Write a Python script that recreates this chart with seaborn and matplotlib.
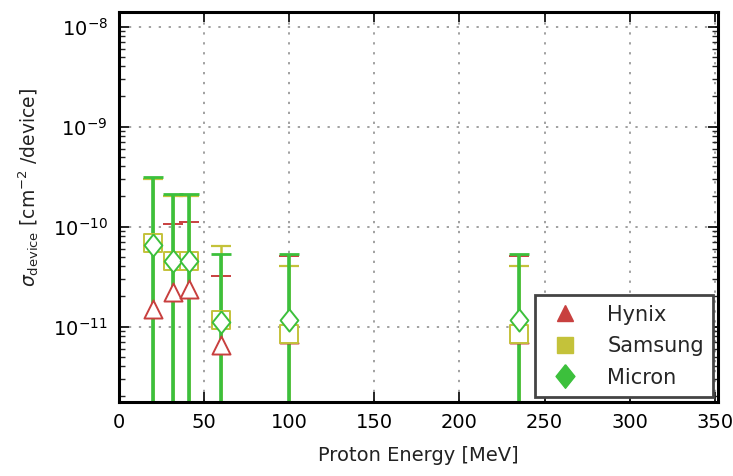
import numpy as np
import pandas as pd
import matplotlib
matplotlib.use("Agg")
import matplotlib.pyplot as plt
from matplotlib.lines import Line2D
import seaborn as sns

# Data
energy = [20, 32, 41, 60, 100, 235]
hynix = [1.5e-11, 2.2e-11, 2.35e-11, 6.6e-12, 8.5e-12, 8.5e-12]
hynix_up = [3.0e-10, 1.07e-10, 1.12e-10, 3.2e-11, 5.1e-11, 5.1e-11]
samsung = [6.8e-11, 4.5e-11, 4.5e-11, 1.15e-11, 8.5e-12, 8.5e-12]
samsung_up = [3.0e-10, 2.0e-10, 2.0e-10, 6.4e-11, 4.0e-11, 4.0e-11]
micron = [6.6e-11, 4.5e-11, 4.5e-11, 1.1e-11, 1.17e-11, 1.17e-11]
micron_up = [3.15e-10, 2.1e-10, 2.1e-10, 5.3e-11, 5.3e-11, 5.3e-11]
lower_floor = 1e-13

diamond = [(0, 1), (0.8, 0), (0, -1), (-0.8, 0), (0, 1)]

series = [
    ("Hynix", hynix, hynix_up, "#c8403f", "^", 13, 1.6, 1.4),
    ("Samsung", samsung, samsung_up, "#c4c23a", "s", 13, 1.8, 1.6),
    ("Micron", micron, micron_up, "#3cc03c", diamond, 16, 2.6, 2.0),
]

sns.set_style("ticks")
plt.rcParams["font.family"] = ["DejaVu Sans"]
plt.rcParams["mathtext.fontset"] = "dejavusans"

fig = plt.figure(figsize=(7.33, 4.76), dpi=100)
ax = fig.add_axes([0.162, 0.155, 0.818, 0.82])

rows = []
for name, vals, ups, color, marker, ms, lw, cw in series:
    vals = np.array(vals)
    ups = np.array(ups)
    yerr = np.vstack([vals - lower_floor, ups - vals])
    ax.errorbar(energy, vals, yerr=yerr, fmt="none", ecolor=color,
                elinewidth=lw, capsize=7, capthick=cw, zorder=2)
    for e, v in zip(energy, vals):
        rows.append({"energy": e, "value": v, "vendor": name})

df = pd.DataFrame(rows)
for name, vals, ups, color, marker, ms, lw, cw in series:
    sub = df[df["vendor"] == name]
    sns.scatterplot(data=sub, x="energy", y="value", ax=ax, marker=marker,
                    s=ms ** 2, facecolor="white", edgecolor=color,
                    linewidth=1.4, zorder=3, legend=False)

ax.set_yscale("log")
ax.set_xlim(0, 352)
ax.set_ylim(1.75e-12, 1.4e-8)
ax.set_xticks([0, 50, 100, 150, 200, 250, 300, 350])
ax.set_yticks([1e-11, 1e-10, 1e-9, 1e-8])
ax.set_yticklabels([r"$10^{-11}$", r"$10^{-10}$", r"$10^{-9}$", r"$10^{-8}$"])

ax.grid(True, which="major", linestyle=(0, (1.5, 5)), color="#888888", linewidth=1.1)
ax.tick_params(axis="both", which="major", direction="in", length=7, width=1.2,
               top=True, right=True, labelsize=14, pad=8, colors="black")
ax.tick_params(axis="y", which="minor", direction="in", length=4, width=1.0,
               right=True, left=True)
for sp in ax.spines.values():
    sp.set_linewidth(2.2)
    sp.set_color("black")
    sp.set_visible(True)

ax.set_xlabel("Proton Energy [MeV]", fontsize=14, color="#222222", labelpad=10)
ax.set_ylabel(r"$\sigma_{\mathrm{device}}$ [cm$^{-2}$ /device]", fontsize=13.5,
              color="#222222", labelpad=6)
ax.yaxis.set_label_coords(-0.13, 0.55)

handles = [Line2D([], [], linestyle="none", marker=m,
                  markersize=(12 if isinstance(m, str) else 17), markerfacecolor=c,
                  markeredgecolor=c, label=n)
           for n, _, _, c, m, _, _, _ in series]
leg = ax.legend(handles=handles, loc="lower right", fontsize=15, frameon=True,
                fancybox=False, edgecolor="#444444", framealpha=1,
                borderpad=0.45, labelspacing=0.55, handletextpad=1.0,
                borderaxespad=0.25)
leg.get_frame().set_linewidth(2.0)

fig.savefig("out.png", dpi=100)
